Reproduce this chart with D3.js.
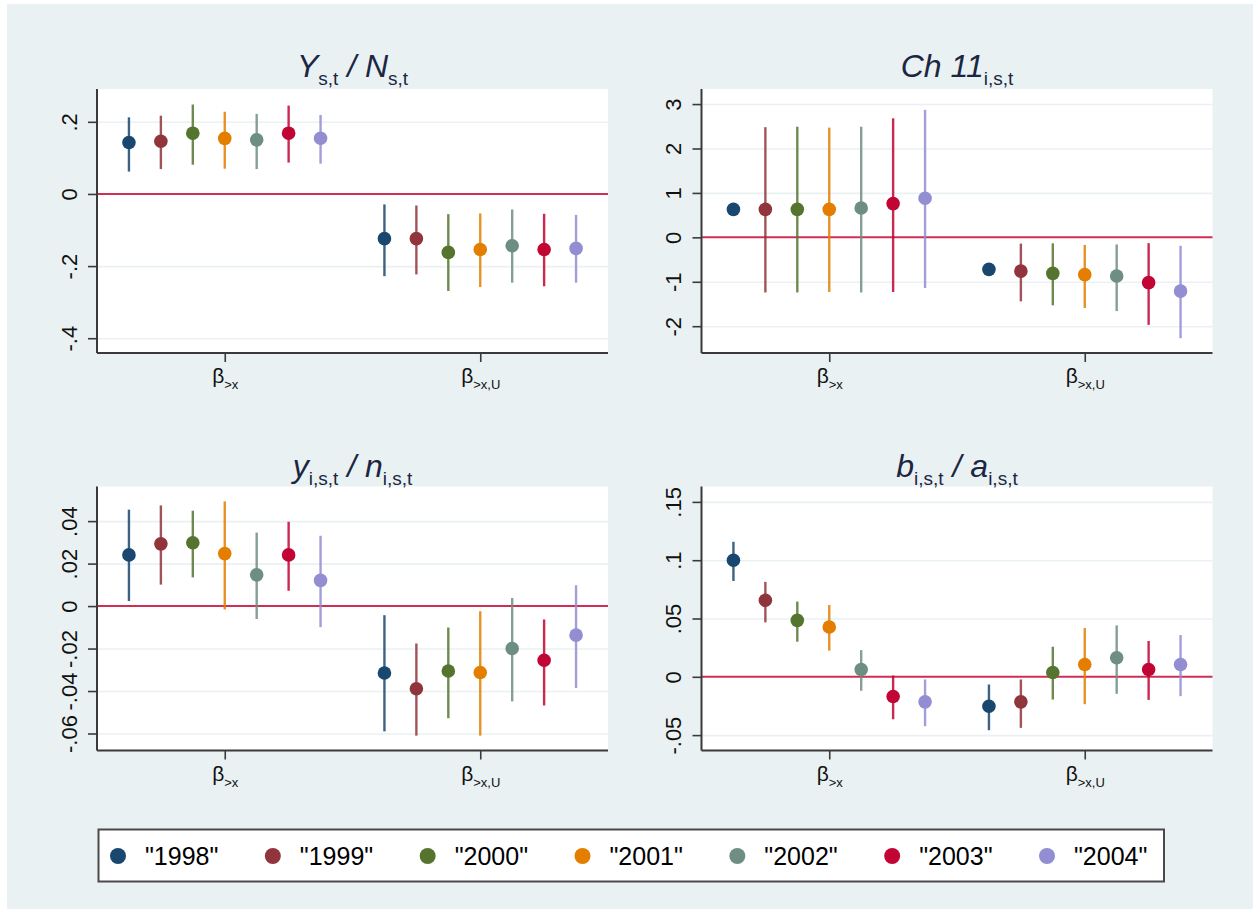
<!DOCTYPE html>
<html>
<head>
<meta charset="utf-8">
<script src="https://cdn.jsdelivr.net/npm/d3@7"></script>
<style>
  body { margin: 0; background: #fff; }
  svg text { font-family: "Liberation Sans", Arial, Helvetica, sans-serif; }
</style>
</head>
<body>
<div id="chart"></div>
<script>
// series (years) and their colours
const years = ["1998", "1999", "2000", "2001", "2002", "2003", "2004"];
const yearColors = ["#1a476f", "#90353b", "#55752f", "#e37e00", "#6e8e84", "#c10534", "#938dd2"];

// the two coefficients on the x axis: beta with a subscript
const groupSubs = [">x", ">x,U"];

// panel 1 : Y_s,t / N_s,t
const ysEst = [[0.1425, 0.146, 0.1685, 0.154, 0.150, 0.1685, 0.1546], [-0.124, -0.124, -0.162, -0.154, -0.1435, -0.154, -0.151]];
const ysLo = [[0.062, 0.069, 0.081, 0.070, 0.069, 0.087, 0.084], [-0.228, -0.223, -0.269, -0.258, -0.246, -0.256, -0.246]];
const ysHi = [[0.2125, 0.217, 0.248, 0.228, 0.222, 0.245, 0.219], [-0.029, -0.032, -0.056, -0.054, -0.043, -0.055, -0.058]];
const ysTicks = [-0.4, -0.2, 0, 0.2];
const ysTickLabels = ["-.4", "-.2", "0", ".2"];

// panel 2 : Ch 11 (1998 has no interval drawn)
const chEst = [[0.63, 0.63, 0.63, 0.63, 0.66, 0.76, 0.88], [-0.72, -0.76, -0.81, -0.84, -0.87, -1.02, -1.21]];
const chLo = [[null, -1.24, -1.24, -1.23, -1.24, -1.23, -1.14], [null, -1.44, -1.53, -1.59, -1.66, -1.97, -2.27]];
const chHi = [[null, 2.48, 2.49, 2.47, 2.49, 2.68, 2.87], [null, -0.14, -0.135, -0.17, -0.16, -0.13, -0.19]];
const chTicks = [-2, -1, 0, 1, 2, 3];
const chTickLabels = ["-2", "-1", "0", "1", "2", "3"];

// panel 3 : y_i,s,t / n_i,s,t
const ynEst = [[0.0241, 0.0293, 0.0298, 0.0247, 0.0147, 0.0241, 0.0121], [-0.0315, -0.0389, -0.0306, -0.0313, -0.0200, -0.0255, -0.0137]];
const ynLo = [[0.0024, 0.0101, 0.0135, -0.0016, -0.0061, 0.0072, -0.0099], [-0.059, -0.061, -0.0528, -0.061, -0.0449, -0.0468, -0.0386]];
const ynHi = [[0.0454, 0.0474, 0.0449, 0.0493, 0.0346, 0.0397, 0.0331], [-0.0043, -0.0176, -0.0101, -0.0024, 0.0038, -0.0063, 0.0098]];
const ynTicks = [-0.06, -0.04, -0.02, 0, 0.02, 0.04];
const ynTickLabels = ["-.06", "-.04", "-.02", "0", ".02", ".04"];

// panel 4 : b_i,s,t / a_i,s,t
const baEst = [[0.100, 0.0656, 0.0484, 0.0427, 0.0063, -0.0169, -0.0215], [-0.0252, -0.0215, 0.0037, 0.0106, 0.0163, 0.0063, 0.0106]];
const baLo = [[0.0822, 0.0467, 0.0301, 0.0224, -0.012, -0.0364, -0.0424], [-0.0458, -0.0438, -0.0195, -0.0235, -0.0146, -0.0198, -0.0166]];
const baHi = [[0.1158, 0.0814, 0.0645, 0.0616, 0.0229, 0.0011, -0.0023], [-0.0066, -0.0023, 0.0258, 0.0418, 0.0441, 0.0307, 0.0358]];
const baTicks = [-0.05, 0, 0.05, 0.1, 0.15];
const baTickLabels = ["-.05", "0", ".05", ".1", ".15"];

const W = 1253, H = 909;
const bg = "#eaf1f3";
const textCol = "#111";
const titleCol = "#1b2742";
const axisCol = "#3a3a3a";

const svg = d3.select("#chart").append("svg")
  .attr("width", W).attr("height", H);

svg.append("rect")
  .attr("x", 7).attr("y", 4)
  .attr("width", W - 7).attr("height", H - 4)
  .attr("fill", bg);

const panels = [
  { title: [["Y", "s,t"], ["N", "s,t"]], est: ysEst, lo: ysLo, hi: ysHi, ticks: ysTicks, labels: ysTickLabels,
    domain: [-0.441, 0.291], left: 97, top: 89, titleY: 77 },
  { title: [["Ch 11", "i,s,t"]], est: chEst, lo: chLo, hi: chHi, ticks: chTicks, labels: chTickLabels,
    domain: [-2.603, 3.339], left: 701.5, top: 89, titleY: 77 },
  { title: [["y", "i,s,t"], ["n", "i,s,t"]], est: ynEst, lo: ynLo, hi: ynHi, ticks: ynTicks, labels: ynTickLabels,
    domain: [-0.068, 0.0563], left: 97, top: 486.5, titleY: 477 },
  { title: [["b", "i,s,t"], ["a", "i,s,t"]], est: baEst, lo: baLo, hi: baHi, ticks: baTicks, labels: baTickLabels,
    domain: [-0.0632, 0.1632], left: 701.5, top: 486.5, titleY: 477 }
];

const pw = 511, ph = 264;

panels.forEach(p => {
  const g = svg.append("g").attr("transform", `translate(${p.left},${p.top})`);

  const x = d3.scaleLinear().domain([0.5, 2.5]).range([0, pw]);
  const y = d3.scaleLinear().domain(p.domain).range([ph, 0]);

  g.append("rect").attr("width", pw).attr("height", ph).attr("fill", "#fff");

  // grid lines
  g.append("g")
    .call(d3.axisLeft(y).tickValues(p.ticks.filter(d => d !== 0)).tickSize(-pw).tickFormat(""))
    .call(a => a.select(".domain").remove())
    .call(a => a.selectAll("line").attr("stroke", bg).attr("stroke-width", 1.6));

  // zero reference line
  g.append("line")
    .attr("x1", 0).attr("x2", pw)
    .attr("y1", y(0)).attr("y2", y(0))
    .attr("stroke", "#cf2f55").attr("stroke-width", 2);

  // points + intervals
  const pts = [];
  p.est.forEach((row, gi) => row.forEach((v, i) => {
    pts.push({ pos: gi + 1 + (i - 3) * 0.125, est: v, lo: p.lo[gi][i], hi: p.hi[gi][i], color: yearColors[i] });
  }));

  g.selectAll(".ci").data(pts.filter(d => d.lo !== null)).join("line")
    .attr("x1", d => x(d.pos)).attr("x2", d => x(d.pos))
    .attr("y1", d => y(d.lo)).attr("y2", d => y(d.hi))
    .attr("stroke", d => d.color).attr("stroke-width", 2.4).attr("stroke-opacity", 0.85);

  g.selectAll(".pt").data(pts).join("circle")
    .attr("cx", d => x(d.pos)).attr("cy", d => y(d.est))
    .attr("r", 6.8).attr("fill", d => d.color);

  // y axis
  const ya = g.append("g")
    .call(d3.axisLeft(y).tickValues(p.ticks).tickSize(9).tickPadding(0)
      .tickFormat((d, i) => p.labels[i]));
  ya.select(".domain").attr("stroke", axisCol).attr("stroke-width", 2).attr("d", `M0,0V${ph}`);
  ya.selectAll(".tick line").attr("stroke", axisCol).attr("stroke-width", 1.6);
  ya.selectAll(".tick text")
    .attr("x", null).attr("dy", null)
    .attr("transform", "translate(-28,0) rotate(-90)")
    .attr("text-anchor", "middle")
    .attr("dominant-baseline", "central")
    .attr("fill", textCol)
    .style("font-size", "22px");

  // x axis
  const xa = g.append("g").attr("transform", `translate(0,${ph})`)
    .call(d3.axisBottom(x).tickValues([1, 2]).tickSize(9).tickFormat(""));
  xa.select(".domain").attr("stroke", axisCol).attr("stroke-width", 2).attr("d", `M0,0H${pw}`);
  xa.selectAll(".tick line").attr("stroke", axisCol).attr("stroke-width", 1.6);
  xa.selectAll(".tick").each(function(d, i) {
    const t = d3.select(this).append("text")
      .attr("y", 30).attr("text-anchor", "middle").attr("fill", textCol);
    t.append("tspan").style("font-size", "21px").text("β");
    t.append("tspan").style("font-size", "13px").attr("dy", 6).text(groupSubs[i]);
  });

  // title: italic main letters with upright subscripts
  const tt = svg.append("text")
    .attr("x", p.left + pw / 2).attr("y", p.titleY)
    .attr("text-anchor", "middle").attr("fill", titleCol);
  p.title.forEach((part, k) => {
    const main = tt.append("tspan").style("font-size", "32px").style("font-style", "italic")
      .text((k > 0 ? " / " : "") + part[0]);
    if (k > 0) main.attr("dy", -8);
    tt.append("tspan").style("font-size", "19px").attr("dy", 8).text(part[1]);
  });
});

// legend
const lg = svg.append("g");
lg.append("rect")
  .attr("x", 98.5).attr("y", 829.5).attr("width", 1065.5).attr("height", 52)
  .attr("fill", "#fff").attr("stroke", "#4a4a4a").attr("stroke-width", 2);

const lx = d3.scaleLinear().domain([0, years.length - 1]).range([118, 1047]);
const items = lg.selectAll(".item").data(years).join("g")
  .attr("transform", (d, i) => `translate(${lx(i)},856)`);
items.append("circle").attr("r", 8).attr("fill", (d, i) => yearColors[i]);
items.append("text")
  .attr("x", 27).attr("dominant-baseline", "central")
  .attr("fill", "#000").style("font-size", "25px")
  .text(d => `"${d}"`);
</script>
</body>
</html>
